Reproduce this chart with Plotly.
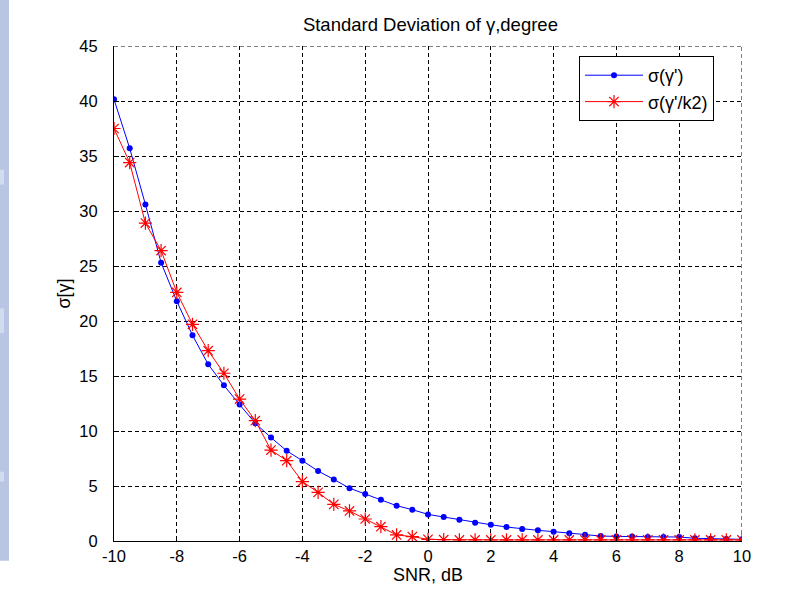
import plotly.graph_objects as go

snr = [-10, -9.5, -9, -8.5, -8, -7.5, -7, -6.5, -6, -5.5, -5, -4.5, -4, -3.5, -3, -2.5, -2, -1.5, -1, -0.5,
       0, 0.5, 1, 1.5, 2, 2.5, 3, 3.5, 4, 4.5, 5, 5.5, 6, 6.5, 7, 7.5, 8, 8.5, 9, 9.5, 10]

sigma_gamma = [40.15, 35.7, 30.6, 25.3, 21.8, 18.7, 16.06, 14.15, 12.4, 10.7, 9.4, 8.2, 7.3, 6.36, 5.6, 4.8,
               4.27, 3.76, 3.21, 2.85, 2.42, 2.18, 1.94, 1.67, 1.48, 1.27, 1.09, 0.97, 0.85, 0.7, 0.57, 0.45,
               0.42, 0.42, 0.36, 0.36, 0.36, 0.25, 0.2, 0.18, 0.15]

sigma_gamma_k2 = [37.5, 34.4, 28.9, 26.4, 22.6, 19.7, 17.3, 15.25, 12.9, 10.94, 8.27, 7.3, 5.4, 4.42, 3.33, 2.73,
                  2.0, 1.3, 0.55, 0.4, 0.15, 0.12, 0.1, 0.1, 0.1, 0.1, 0.1, 0.1, 0.1, 0.1, 0.1, 0.1,
                  0.1, 0.1, 0.1, 0.1, 0.1, 0.1, 0.1, 0.1, 0.1]

x_ticks = [-10, -8, -6, -4, -2, 0, 2, 4, 6, 8, 10]
y_ticks = [0, 5, 10, 15, 20, 25, 30, 35, 40, 45]

FONT = "Liberation Sans, Arial, sans-serif"

fig = go.Figure()
fig.add_trace(go.Scatter(
    x=snr, y=sigma_gamma, mode="lines+markers", name="σ(γ')",
    line=dict(color="#0000ff", width=1),
    marker=dict(symbol="circle", size=6, color="#0000ff"),
))
fig.add_trace(go.Scatter(
    x=snr, y=sigma_gamma_k2, mode="lines+markers", name="σ(γ'/k2)",
    line=dict(color="#ff0000", width=1),
    marker=dict(symbol="asterisk-open", size=11, color="#ff0000", line=dict(color="#ff0000", width=1.2)),
))

# dashed top and right border (grid at range edges)
fig.add_shape(type="line", xref="paper", yref="y", x0=0, x1=1, y0=45, y1=45,
              line=dict(color="black", width=1, dash="4px,3px"), layer="below")
fig.add_shape(type="line", xref="x", yref="paper", x0=10, x1=10, y0=0, y1=1,
              line=dict(color="black", width=1, dash="4px,3px"), layer="below")

# faint watermark strip on the left edge
fig.add_shape(type="rect", xref="paper", yref="paper", x0=-114/628, x1=-105/628,
              y0=-0.04, y1=61/495 + 1, fillcolor="#b8c6e4", line=dict(width=0), layer="below")
for (a, b) in [(0.72, 0.75), (0.42, 0.47), (0.12, 0.14)]:
    fig.add_shape(type="rect", xref="paper", yref="paper", x0=-114/628, x1=-110/628,
                  y0=a, y1=b, fillcolor="#d3dcef", line=dict(width=0), layer="below")

fig.update_layout(
    width=803, height=602,
    margin=dict(l=114, r=61, t=46, b=61),
    paper_bgcolor="white", plot_bgcolor="white",
    font=dict(family=FONT, size=16, color="black"),
    title=dict(text="Standard Deviation of γ,degree", x=0.536, xanchor="center",
               y=1 - 25/602, yanchor="middle", font=dict(size=18.5, family=FONT)),
    showlegend=True,
    legend=dict(x=(579 - 114) / 628, y=(541 - 56) / 495, xanchor="left", yanchor="top",
                bgcolor="white", bordercolor="black", borderwidth=1,
                font=dict(size=18, family=FONT), tracegroupgap=0, itemwidth=58),
)

fig.update_xaxes(
    range=[-10, 10], tickvals=x_ticks, ticktext=[str(v) for v in x_ticks],
    showline=True, linecolor="black", linewidth=1,
    ticks="inside", ticklen=5, tickcolor="black",
    showgrid=True, gridcolor="black", gridwidth=1, griddash="4px,3px",
    zeroline=False, tickfont=dict(size=16.5, family=FONT),
    title=dict(text="SNR, dB", standoff=3, font=dict(size=18, family=FONT)),
)
fig.update_yaxes(
    range=[0, 45], tickvals=y_ticks, ticktext=[str(v) for v in y_ticks],
    showline=True, linecolor="black", linewidth=1,
    ticks="inside", ticklen=5, tickcolor="black",
    showgrid=True, gridcolor="black", gridwidth=1, griddash="4px,3px",
    zeroline=False, tickfont=dict(size=16.5, family=FONT), ticklabelstandoff=12,
    title=dict(text="σ[γ]", standoff=4, font=dict(size=18, family=FONT)),
)

fig.write_html("out.html")
